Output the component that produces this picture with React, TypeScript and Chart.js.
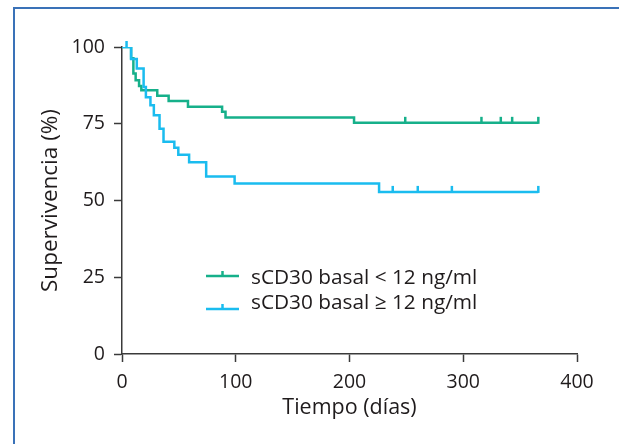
import React, { useEffect, useRef } from 'react';
import { Chart, registerables } from 'chart.js';

Chart.register(...registerables);

// ---- Data ----
const lowTimes = [0, 8, 10, 12, 15, 17, 31, 41, 58, 88, 91, 204, 366];
const lowSurvival = [100, 96.3, 91.4, 89.2, 87.3, 85.9, 84.1, 82.4, 80.5, 78.9, 77.0, 75.3, 75.3];
const lowCensored = [249, 316, 333, 343, 366];

const highTimes = [0, 8, 13, 19, 21, 25, 28, 33, 36.5, 46, 49.5, 59, 74, 99, 226, 366];
const highSurvival = [100, 96.1, 93.0, 87.0, 83.6, 81.0, 77.8, 73.4, 69.1, 67.2, 64.9, 62.5, 57.8, 55.5, 52.8, 52.8];
const highCensored = [4, 238, 260, 290, 366];

const seriesLabels = ['sCD30 basal < 12 ng/ml', 'sCD30 basal \u2265 12 ng/ml'];
const xTicks = [0, 100, 200, 300, 400];
const yTicks = [0, 25, 50, 75, 100];
const xTitle = 'Tiempo (días)';
const yTitle = 'Supervivencia (%)';

// ---- Styles ----
const lowColor = '#16b08a';
const highColor = '#1abcef';
const axisColor = '#3a3a3a';
const textColor = '#1f1b1c';
const fontFamily = '"Open Sans", "Noto Sans", sans-serif';

const series = [
  { times: highTimes, surv: highSurvival, censored: highCensored, color: highColor, label: seriesLabels[1] },
  { times: lowTimes, surv: lowSurvival, censored: lowCensored, color: lowColor, label: seriesLabels[0] },
];

function survivalAt(times: number[], surv: number[], t: number): number {
  let v = surv[0];
  for (let i = 0; i < times.length; i++) {
    if (times[i] <= t) v = surv[i];
  }
  return v;
}

const censorPlugin = {
  id: 'censorMarks',
  afterDatasetsDraw(chart: any) {
    const { ctx } = chart;
    const xs = chart.scales.x;
    const ys = chart.scales.y;
    ctx.save();
    ctx.lineWidth = 2.5;
    ctx.lineCap = 'butt';
    series.forEach((s) => {
      ctx.strokeStyle = s.color;
      s.censored.forEach((t) => {
        const v = survivalAt(s.times, s.surv, t);
        const px = xs.getPixelForValue(t);
        const py = ys.getPixelForValue(v);
        ctx.beginPath();
        ctx.moveTo(px, py + 1);
        ctx.lineTo(px, py - 6);
        ctx.stroke();
      });
    });
    ctx.restore();
  },
};

const legendPlugin = {
  id: 'kmLegend',
  afterDraw(chart: any) {
    const { ctx, chartArea } = chart;
    const x0 = chartArea.left + 84;
    const x1 = chartArea.left + 117;
    const xm = (x0 + x1) / 2;
    const rows = [
      { color: lowColor, lineY: chartArea.top + 229, textY: chartArea.top + 236.5, label: seriesLabels[0] },
      { color: highColor, lineY: chartArea.top + 262, textY: chartArea.top + 261.5, label: seriesLabels[1] },
    ];
    ctx.save();
    rows.forEach((r) => {
      ctx.strokeStyle = r.color;
      ctx.lineWidth = 2.5;
      ctx.beginPath();
      ctx.moveTo(x0, r.lineY);
      ctx.lineTo(x1, r.lineY);
      ctx.stroke();
      ctx.beginPath();
      ctx.moveTo(xm, r.lineY + 1);
      ctx.lineTo(xm, r.lineY - 5);
      ctx.stroke();
      ctx.fillStyle = textColor;
      ctx.font = `20.8px ${fontFamily}`;
      ctx.textAlign = 'left';
      ctx.textBaseline = 'alphabetic';
      ctx.fillText(r.label, chartArea.left + 129, r.textY);
    });
    ctx.restore();
  },
};

export default function App() {
  const canvasRef = useRef<HTMLCanvasElement | null>(null);

  useEffect(() => {
    const canvas = canvasRef.current;
    if (!canvas) return;
    const chart = new Chart(canvas, {
      type: 'scatter',
      data: {
        datasets: series.map((s) => ({
          label: s.label,
          data: s.times.map((t, i) => ({ x: t, y: s.surv[i] })),
          showLine: true,
          stepped: 'before' as const,
          borderColor: s.color,
          backgroundColor: s.color,
          borderWidth: 2.5,
          pointRadius: 0,
          pointHoverRadius: 0,
          fill: false,
        })),
      },
      options: {
        animation: false,
        responsive: false,
        devicePixelRatio: 1,
        layout: { padding: { top: 47, right: 42, left: 0, bottom: 0 } },
        plugins: {
          legend: { display: false },
          tooltip: { enabled: false },
        },
        scales: {
          x: {
            type: 'linear',
            min: 0,
            max: 400,
            afterBuildTicks: (s: any) => {
              s.ticks = xTicks.map((v) => ({ value: v }));
            },
            afterFit: (s: any) => {
              s.height = 90;
            },
            ticks: {
              color: textColor,
              font: { family: fontFamily, size: 19.5 },
              padding: 9,
              maxRotation: 0,
            },
            grid: {
              display: true,
              drawOnChartArea: false,
              drawTicks: true,
              tickLength: 8,
              tickColor: axisColor,
              tickWidth: 1.5,
            },
            border: { display: true, color: axisColor, width: 1.5 },
            title: {
              display: true,
              text: xTitle,
              color: textColor,
              font: { family: fontFamily, size: 21.5 },
              padding: { top: 0, bottom: 23 },
            },
          },
          y: {
            type: 'linear',
            min: 0,
            max: 100,
            afterBuildTicks: (s: any) => {
              s.ticks = yTicks.map((v) => ({ value: v }));
            },
            afterFit: (s: any) => {
              s.width = 122;
            },
            ticks: {
              color: textColor,
              font: { family: fontFamily, size: 19.5 },
              padding: 9,
            },
            grid: {
              display: true,
              drawOnChartArea: false,
              drawTicks: true,
              tickLength: 8,
              tickColor: axisColor,
              tickWidth: 1.5,
            },
            border: { display: true, color: axisColor, width: 1.5 },
            title: {
              display: true,
              text: yTitle,
              color: textColor,
              font: { family: fontFamily, size: 22.5 },
              padding: { top: 37, bottom: 0 },
            },
          },
        },
      },
      plugins: [censorPlugin, legendPlugin],
    });
    return () => chart.destroy();
  }, []);

  return (
    <div style={{ position: 'fixed', left: 0, top: 0, width: 619, height: 444, background: '#ffffff' }}>
      <canvas ref={canvasRef} width={619} height={444} style={{ position: 'absolute', left: 0, top: 0 }} />
      <div
        style={{
          position: 'absolute',
          left: 13,
          top: 7,
          right: 0,
          bottom: 0,
          borderLeft: '2px solid #3a72b8',
          borderTop: '2px solid #3a72b8',
          pointerEvents: 'none',
        }}
      />
    </div>
  );
}
